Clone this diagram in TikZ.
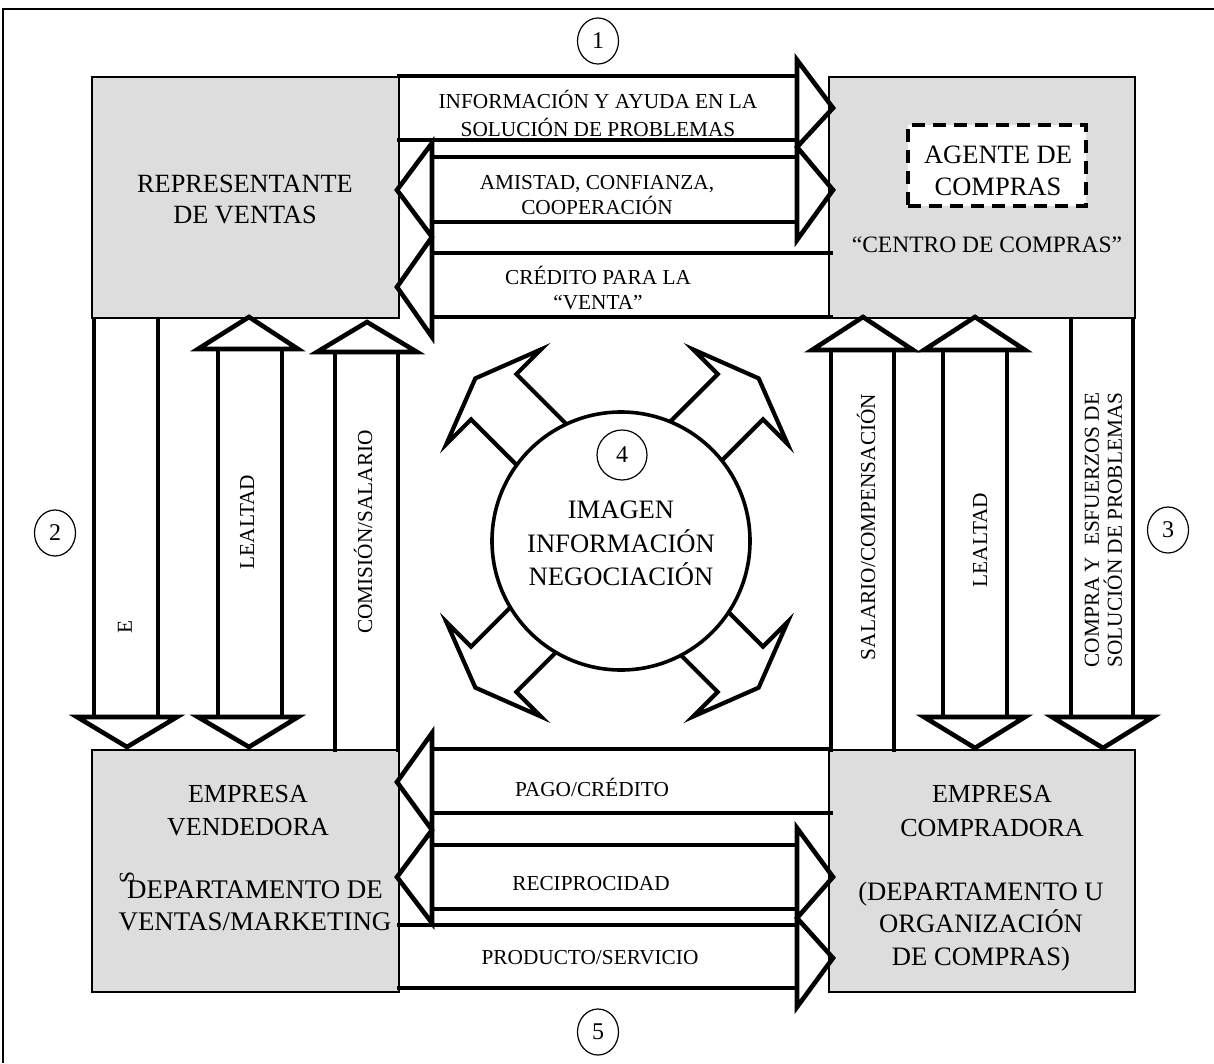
\documentclass[tikz,border=0pt]{standalone}
\usepackage{fontspec}
\setmainfont{Liberation Serif}
\usetikzlibrary{shapes.geometric}
\definecolor{boxgray}{RGB}{221,221,221}
\newcommand\bigtxt{\fontsize{26pt}{32pt}\selectfont}
\newcommand\smalltxt{\fontsize{21.3pt}{26pt}\selectfont}
\newcommand\numtxt{\fontsize{24pt}{28pt}\selectfont}

\begin{document}
\begin{tikzpicture}[x=1pt,y=-1pt,
  box/.style={draw, line width=2.8pt, fill=boxgray, anchor=north west, inner sep=0pt, outer sep=0pt},
  arr/.style={line width=4.6pt},
  diag/.style={line width=4.2pt},
  lbl/.style={font=\smalltxt, align=center, inner sep=0pt},
  vlbl/.style={font=\smalltxt, align=center, inner sep=0pt, rotate=90},
  big/.style={font=\bigtxt, align=center, inner sep=0pt},
  num/.style={draw, ellipse, line width=1.2pt, minimum width=41pt, minimum height=46pt, inner sep=0pt, font=\numtxt},
]
\useasboundingbox (0,0) rectangle (1214,1063);
\fill[white] (0,0) rectangle (1214,1063);
% outer frame
\draw[line width=1.8pt] (3,1063) -- (3,9) -- (1214,9);

% the four parties
\node[box, minimum width=307pt, minimum height=241pt] (rep) at (92,77) {};
\node[box, minimum width=306pt, minimum height=241pt] (centro) at (829,77) {};
\node[box, minimum width=307pt, minimum height=242pt] (vend) at (92,750) {};
\node[box, minimum width=306pt, minimum height=242pt] (comp) at (829,750) {};

% upper exchanges
\draw[arr] (397,76) -- (797,76);
\draw[arr] (397,140) -- (797,140);
\draw[arr] (432,157) -- (797,157);
\draw[arr] (432,222) -- (797,222);
\draw[arr] (432,253) -- (833,253);
\draw[arr] (432,317) -- (833,317);
\draw[arr] (797,240) -- (797,60) -- (833,108) -- (797,147) -- (833,190) -- cycle;
\draw[arr] (432,143) -- (397,190) -- (432,237) -- (397,287) -- (432,337) -- cycle;

% lower exchanges
\draw[arr] (432,749) -- (833,749);
\draw[arr] (432,813) -- (833,813);
\draw[arr] (432,845) -- (797,845);
\draw[arr] (432,909) -- (797,909);
\draw[arr] (397,925) -- (797,925);
\draw[arr] (397,988) -- (797,988);
\draw[arr] (432,733) -- (397,782) -- (432,830) -- (397,877) -- (432,923) -- cycle;
\draw[arr] (797,828) -- (833,877) -- (797,918) -- (833,958) -- (797,1007) -- cycle;

% seller side, vertical flows
\draw[arr] (94,318) -- (94,717);
\draw[arr] (158,318) -- (158,717);
\draw[arr] (77,717) -- (177,717) -- (127,747) -- cycle;
\draw[arr] (198,349) -- (298,349) -- (249,317) -- cycle;
\draw[arr] (218,349) -- (218,717);
\draw[arr] (282,349) -- (282,717);
\draw[arr] (198,717) -- (298,717) -- (249,747) -- cycle;
\draw[arr] (317,352) -- (417,352) -- (367,322) -- cycle;
\draw[arr] (335,352) -- (335,752);
\draw[arr] (398,352) -- (398,752);

% buyer side, vertical flows
\draw[arr] (812,350) -- (913,350) -- (863,317) -- cycle;
\draw[arr] (831,350) -- (831,752);
\draw[arr] (894,350) -- (894,752);
\draw[arr] (924,350) -- (1025,350) -- (975,317) -- cycle;
\draw[arr] (943,350) -- (943,717);
\draw[arr] (1007,350) -- (1007,717);
\draw[arr] (924,717) -- (1025,717) -- (975,748) -- cycle;
\draw[arr] (1071,318) -- (1071,717);
\draw[arr] (1133,318) -- (1133,717);
\draw[arr] (1052,717) -- (1153,717) -- (1103,748) -- cycle;

% diagonal arrows around the hub (u outward, v across)
\begin{scope}[shift={(621,541)}, x={(-0.7071pt,0.7071pt)}, y={(0.7071pt,0.7071pt)}]
  \draw[diag] (110,44) -- (192,44) -- (192,79) -- (218,12) -- (192,-55) -- (192,-20) -- (110,-20);
\end{scope}
\begin{scope}[shift={(613,541)}, x={(0.7071pt,0.7071pt)}, y={(-0.7071pt,0.7071pt)}]
  \draw[diag] (110,44) -- (192,44) -- (192,79) -- (218,12) -- (192,-55) -- (192,-20) -- (110,-20);
\end{scope}
\begin{scope}[shift={(621,525)}, x={(-0.7071pt,-0.7071pt)}, y={(0.7071pt,-0.7071pt)}]
  \draw[diag] (110,44) -- (192,44) -- (192,79) -- (218,12) -- (192,-55) -- (192,-20) -- (110,-20);
\end{scope}
\begin{scope}[shift={(613,525)}, x={(0.7071pt,-0.7071pt)}, y={(-0.7071pt,-0.7071pt)}]
  \draw[diag] (110,44) -- (192,44) -- (192,79) -- (218,12) -- (192,-55) -- (192,-20) -- (110,-20);
\end{scope}

% central hub
\node[draw, circle, line width=3.6pt, fill=white, minimum size=258pt, inner sep=0pt] (hub) at (621,541) {};
\node[draw, circle, line width=1.2pt, minimum size=50pt, inner sep=0pt, font=\numtxt] (n4) at (622,455) {4};
\node[big, font=\fontsize{26.6pt}{33.5pt}\selectfont] (hubtxt) at (621,543.5) {IMAGEN\\INFORMACIÓN\\NEGOCIACIÓN};

% box texts
\node[big, font=\fontsize{26.3pt}{31pt}\selectfont] (reptxt) at (245,199.5) {REPRESENTANTE\\DE VENTAS};
\node[draw, line width=4pt, dash pattern=on 13pt off 8pt, fill=white, minimum width=178pt, minimum height=81pt, inner sep=0pt] (agente) at (997,165.5) {};
\node[big, font=\fontsize{26.5pt}{32pt}\selectfont] (agentetxt) at (998,171) {AGENTE DE\\COMPRAS};
\node[big, font=\fontsize{23.5pt}{28pt}\selectfont] (centrotxt) at (987,245) {“CENTRO DE COMPRAS”};
\node[big, font=\fontsize{26pt}{33pt}\selectfont] (vendtxt1) at (248,810.5) {EMPRESA\\VENDEDORA};
\node[big, font=\fontsize{26.9pt}{32pt}\selectfont] (vendtxt2) at (255,906) {DEPARTAMENTO DE\\VENTAS/MARKETING};
\node[vlbl] (stray) at (127,878) {S};
\node[big, font=\fontsize{26pt}{34pt}\selectfont] (comptxt1) at (992,811) {EMPRESA\\COMPRADORA};
\node[big, font=\fontsize{26.6pt}{32.5pt}\selectfont] (comptxt2) at (981,926.5) {(DEPARTAMENTO U\\ORGANIZACIÓN\\DE COMPRAS)};

% flow labels
\node[lbl, font=\fontsize{21.3pt}{28pt}\selectfont] (l-info) at (598,113) {INFORMACIÓN Y AYUDA EN LA\\SOLUCIÓN DE PROBLEMAS};
\node[lbl, font=\fontsize{21.3pt}{25pt}\selectfont] (l-amistad) at (597,195) {AMISTAD, CONFIANZA,\\COOPERACIÓN};
\node[lbl, font=\fontsize{21.3pt}{25pt}\selectfont] (l-credito) at (598,288) {CRÉDITO PARA LA\\“VENTA”};
\node[lbl] (l-pago) at (592,787) {PAGO/CRÉDITO};
\node[lbl] (l-recip) at (591,884) {RECIPROCIDAD};
\node[lbl] (l-prod) at (590,958) {PRODUCTO/SERVICIO};
\node[vlbl] (l-e) at (125,627) {E};
\node[vlbl] (l-leal1) at (247,522) {LEALTAD};
\node[vlbl] (l-comision) at (363,532) {COMISIÓN/SALARIO};
\node[vlbl] (l-salario) at (866,527) {SALARIO/COMPENSACIÓN};
\node[vlbl] (l-leal2) at (980,540) {LEALTAD};
\node[vlbl, font=\fontsize{21.3pt}{23pt}\selectfont] (l-compra) at (1103.5,530) {COMPRA Y \ ESFUERZOS DE\\SOLUCIÓN DE PROBLEMAS};

% numbered markers
\node[num] (n1) at (598,41) {1};
\node[num] (n2) at (55,533) {2};
\node[num] (n3) at (1168,530) {3};
\node[num] (n5) at (598,1032) {5};
\end{tikzpicture}
\end{document}
